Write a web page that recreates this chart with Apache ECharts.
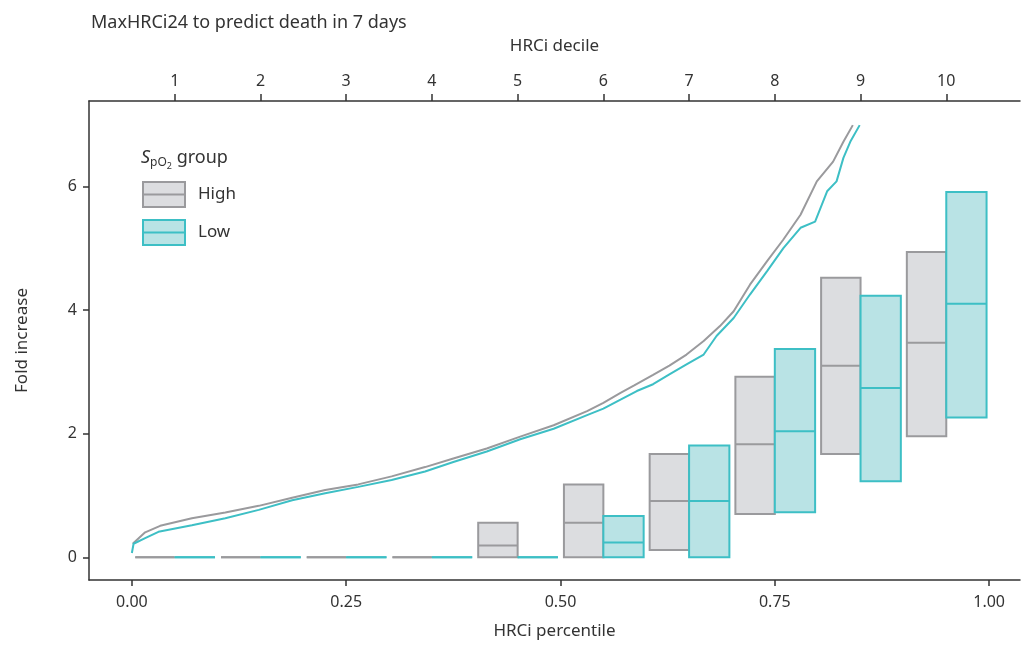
<!DOCTYPE html>
<html>
<head>
<meta charset="utf-8">
<script src="https://cdn.jsdelivr.net/npm/echarts@6.0.0/dist/echarts.min.js"></script>
<style>
  html, body { margin: 0; padding: 0; background: #fff; }
  #chart { width: 1022px; height: 645px; }
</style>
</head>
<body>
<div id="chart"></div>
<script>
// decile boxes (fold increase): lower quartile, median, upper quartile
const deciles = [1, 2, 3, 4, 5, 6, 7, 8, 9, 10]
const highQ1 = [0, 0, 0, 0, 0, 0, 0.12, 0.70, 1.67, 1.96]
const highMed = [0, 0, 0, 0, 0.19, 0.56, 0.91, 1.83, 3.10, 3.47]
const highQ3 = [0, 0, 0, 0, 0.56, 1.18, 1.67, 2.92, 4.52, 4.94]
const lowQ1 = [0, 0, 0, 0, 0, 0, 0, 0.73, 1.23, 2.26]
const lowMed = [0, 0, 0, 0, 0, 0.24, 0.91, 2.04, 2.74, 4.10]
const lowQ3 = [0, 0, 0, 0, 0, 0.67, 1.81, 3.37, 4.23, 5.91]

// cumulative curves [percentile, fold increase]
const highCurve = [
  [0.001, 0.22], [0.0155, 0.405], [0.033, 0.51], [0.070, 0.634], [0.109, 0.726],
  [0.148, 0.833], [0.187, 0.965], [0.2255, 1.09], [0.264, 1.18], [0.303, 1.31],
  [0.342, 1.46], [0.375, 1.598], [0.414, 1.76], [0.453, 1.953], [0.492, 2.136],
  [0.531, 2.366], [0.550, 2.50], [0.570, 2.66], [0.586, 2.78], [0.608, 2.95],
  [0.627, 3.10], [0.647, 3.28], [0.667, 3.50], [0.686, 3.74], [0.702, 3.98],
  [0.721, 4.41], [0.741, 4.79], [0.760, 5.14], [0.780, 5.54], [0.799, 6.08],
  [0.818, 6.40], [0.830, 6.72], [0.841, 6.99]
]
const lowCurve = [
  [0.0, 0.07], [0.002, 0.22], [0.0155, 0.31], [0.031, 0.413], [0.070, 0.521],
  [0.109, 0.634], [0.148, 0.768], [0.187, 0.925], [0.2255, 1.038], [0.264, 1.14],
  [0.303, 1.25], [0.342, 1.388], [0.375, 1.543], [0.414, 1.711], [0.453, 1.91],
  [0.492, 2.08], [0.531, 2.30], [0.550, 2.405], [0.570, 2.55], [0.589, 2.69],
  [0.608, 2.80], [0.627, 2.96], [0.647, 3.12], [0.667, 3.28], [0.682, 3.58],
  [0.702, 3.87], [0.721, 4.25], [0.741, 4.63], [0.760, 5.00], [0.780, 5.33],
  [0.797, 5.43], [0.811, 5.92], [0.822, 6.08], [0.830, 6.46], [0.838, 6.72],
  [0.849, 6.99]
]

const bottomTicks = [0, 0.25, 0.5, 0.75, 1]
const topTicks = deciles.map(d => (d - 0.5) / 10)
const yTicks = [0, 2, 4, 6]

const grayLine = '#9a9a9d'
const grayFill = '#dcdde0'
const cyanLine = '#3dbfc5'
const cyanFill = '#b9e3e5'
const textColor = '#333'
const font = 'Noto Sans'

const chart = echarts.init(document.getElementById('chart'))

const boxRenderer = (lo, hi, stroke, fill) => (params, api) => {
  const d0 = api.value(0)
  const a = api.coord([d0 + lo, api.value(3)])
  const b = api.coord([d0 + hi, api.value(1)])
  const m = api.coord([d0 + lo, api.value(2)])
  return {
    type: 'group',
    children: [
      {
        type: 'rect',
        shape: { x: a[0], y: a[1], width: b[0] - a[0], height: b[1] - a[1] },
        style: { fill: fill, stroke: stroke, lineWidth: 2 }
      },
      {
        type: 'line',
        shape: { x1: a[0], y1: m[1], x2: b[0], y2: m[1] },
        style: { stroke: stroke, lineWidth: 2 }
      }
    ]
  }
}

const highBoxes = deciles.map((d, i) => [(d - 1) / 10, highQ1[i], highMed[i], highQ3[i]])
const lowBoxes = deciles.map((d, i) => [(d - 1) / 10, lowQ1[i], lowMed[i], lowQ3[i]])

const boxIcon = 'path://M0,0 L42,0 L42,25 L0,25 Z M0,12.5 L42,12.5'

const axisText = { fontSize: 16, color: textColor, fontFamily: font }
const nameText = { fontSize: 17, color: textColor, fontFamily: font }

const option = {
  animation: false,
  textStyle: { fontFamily: font },
  title: [
    {
      text: 'MaxHRCi24 to predict death in 7 days',
      left: 86,
      top: 9,
      textStyle: { fontSize: 18, fontWeight: 'normal', color: textColor, fontFamily: font }
    },
    {
      text: '{s|S}{sub|pO}{sub2|2}{t| group}',
      left: 136,
      top: 140,
      textStyle: {
        fontFamily: font,
        fontWeight: 'normal',
        rich: {
          s: { fontSize: 18, fontStyle: 'italic', fontWeight: 'normal', color: textColor, fontFamily: font },
          sub: { fontSize: 12, fontWeight: 'normal', color: textColor, padding: [10, 0, 0, 0], fontFamily: font },
          sub2: { fontSize: 9, fontWeight: 'normal', color: textColor, padding: [17, 0, 0, 0], fontFamily: font },
          t: { fontSize: 18, fontWeight: 'normal', color: textColor, fontFamily: font }
        }
      }
    }
  ],
  legend: {
    orient: 'vertical',
    left: 137,
    top: 176,
    itemWidth: 42,
    itemHeight: 25,
    itemGap: 11,
    selectedMode: false,
    icon: boxIcon,
    textStyle: { fontSize: 17, color: textColor, fontFamily: font, padding: [0, 0, 0, 8] },
    data: [
      { name: 'High', itemStyle: { color: grayFill, borderColor: grayLine, borderWidth: 2 } },
      { name: 'Low', itemStyle: { color: cyanFill, borderColor: cyanLine, borderWidth: 2 } }
    ]
  },
  grid: { left: 89, right: 2, top: 101, bottom: 64 },
  xAxis: [
    {
      type: 'value',
      position: 'bottom',
      min: -0.05,
      max: 1.036,
      name: 'HRCi percentile',
      nameLocation: 'middle',
      nameGap: 43,
      nameTextStyle: nameText,
      splitLine: { show: false },
      axisLine: { onZero: false, lineStyle: { color: textColor, width: 1.5 } },
      axisTick: { length: 6, lineStyle: { color: textColor, width: 1.5 }, customValues: bottomTicks },
      axisLabel: Object.assign({}, axisText, {
        margin: 14,
        customValues: bottomTicks,
        formatter: v => v.toFixed(2)
      })
    },
    {
      type: 'value',
      position: 'top',
      min: -0.05,
      max: 1.036,
      name: 'HRCi decile',
      nameLocation: 'middle',
      nameGap: 46,
      nameTextStyle: nameText,
      splitLine: { show: false },
      axisLine: { onZero: false, lineStyle: { color: textColor, width: 1.5 } },
      axisTick: { length: 7, lineStyle: { color: textColor, width: 1.5 }, customValues: topTicks },
      axisLabel: Object.assign({}, axisText, {
        margin: 12,
        customValues: topTicks,
        formatter: v => String(Math.round(v * 10 + 0.5))
      })
    }
  ],
  yAxis: {
    type: 'value',
    min: -0.366,
    max: 7.38,
    name: 'Fold increase',
    nameLocation: 'middle',
    nameGap: 58,
    nameTextStyle: nameText,
    splitLine: { show: false },
    axisLine: { show: true, onZero: false, lineStyle: { color: textColor, width: 1.5 } },
    axisTick: { show: true, length: 6, lineStyle: { color: textColor, width: 1.5 }, customValues: yTicks },
    axisLabel: Object.assign({}, axisText, { margin: 12, customValues: yTicks })
  },
  series: [
    {
      name: 'High',
      type: 'custom',
      xAxisIndex: 0,
      renderItem: boxRenderer(0.004, 0.050, grayLine, grayFill),
      encode: { x: 0, y: [1, 2, 3] },
      data: highBoxes
    },
    {
      name: 'Low',
      type: 'custom',
      xAxisIndex: 0,
      renderItem: boxRenderer(0.050, 0.097, cyanLine, cyanFill),
      encode: { x: 0, y: [1, 2, 3] },
      data: lowBoxes
    },
    {
      name: 'High curve',
      type: 'line',
      xAxisIndex: 0,
      symbol: 'none',
      lineStyle: { color: grayLine, width: 2 },
      data: highCurve
    },
    {
      name: 'Low curve',
      type: 'line',
      xAxisIndex: 0,
      symbol: 'none',
      lineStyle: { color: cyanLine, width: 2 },
      data: lowCurve
    }
  ]
}

chart.setOption(option)
</script>
</body>
</html>
